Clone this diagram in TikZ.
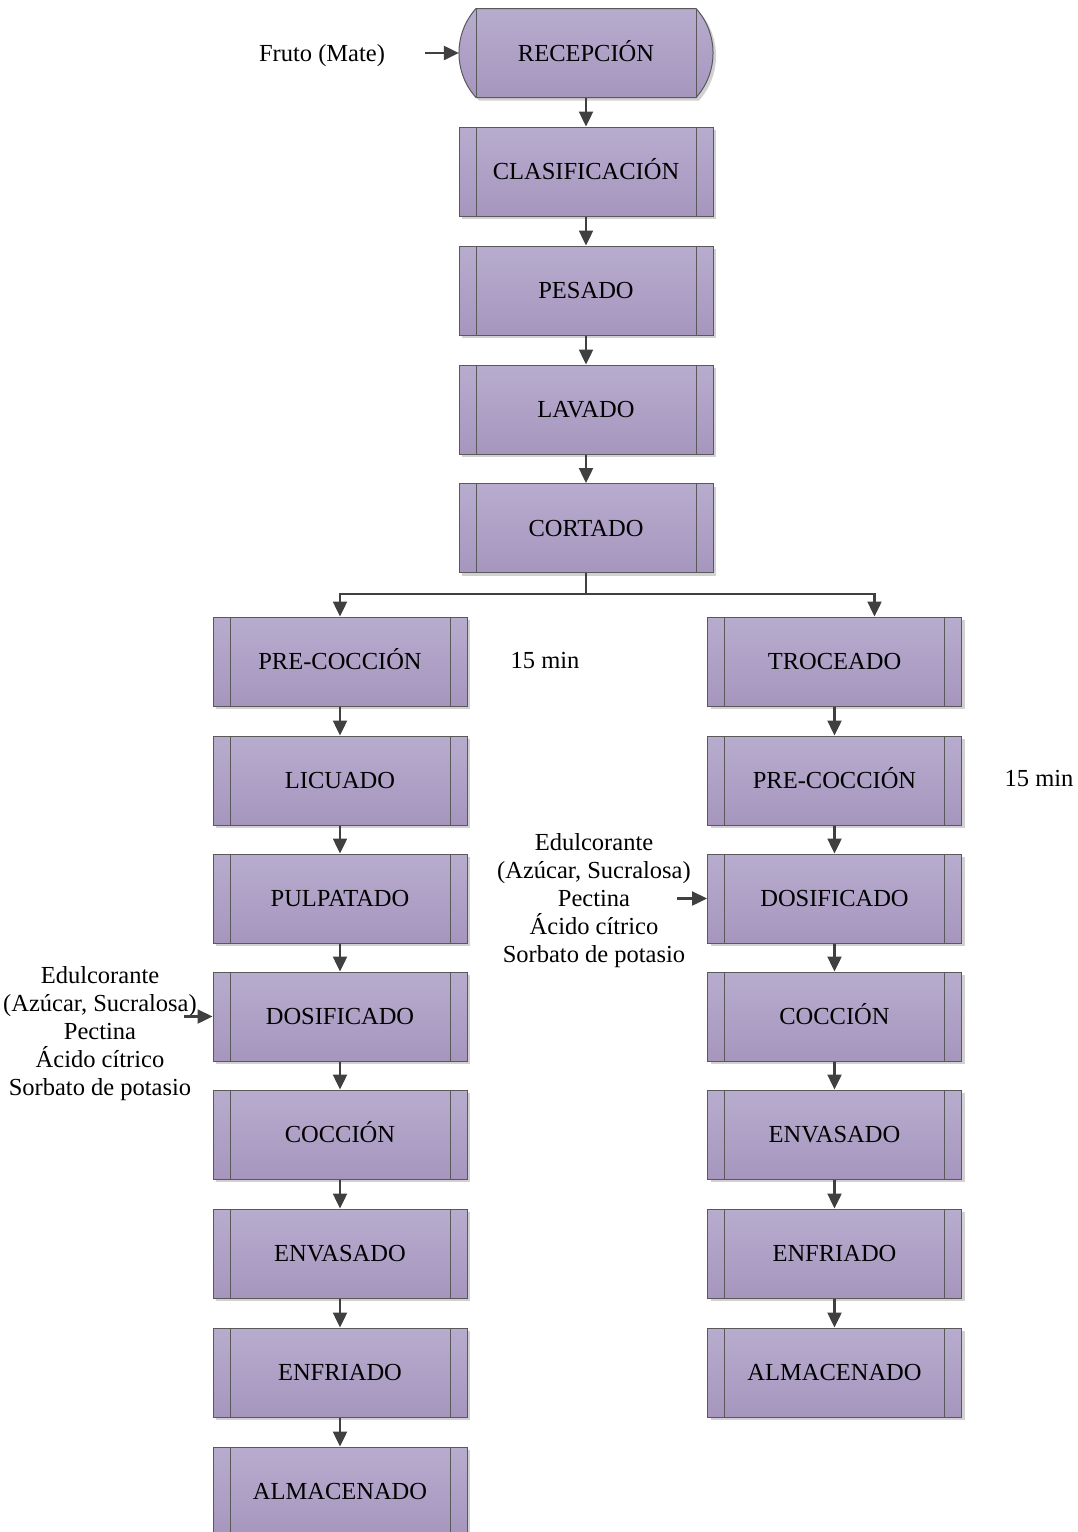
\documentclass[tikz,border=0pt]{standalone}
\usepackage{fontspec}
\setmainfont{Liberation Serif}
\usetikzlibrary{arrows.meta,shadows}
\definecolor{boxtop}{HTML}{B7ACCE}
\definecolor{boxbot}{HTML}{A696BE}
\definecolor{edge}{HTML}{595959}
\definecolor{arrc}{HTML}{404040}
\tikzset{
  txt/.style={font=\fontsize{24.5}{28}\selectfont, text=black, inner sep=0pt, text height=16.2pt, text depth=0pt},
  proc/.style={txt, draw=edge, line width=1pt, top color=boxtop, bottom color=boxbot,
    minimum width=254pt, minimum height=89pt,
    drop shadow={shadow xshift=3pt, shadow yshift=-3pt, fill=black!18, opacity=1}},
  side/.style={font=\fontsize{24.5}{28}\selectfont, text=black, inner sep=0pt, align=center},
  arr/.style={draw=arrc, line width=2.4pt, -{Triangle[length=15pt,width=14pt]}},
  ln/.style={draw=arrc, line width=2.4pt},
  inner/.style={draw=edge, line width=1pt}
}
\newcommand{\procbox}[4]{%
  \node[proc] (#1) at (#2,#3) {#4};
  \draw[inner] ([xshift=17.5pt]#1.north west) -- ([xshift=17.5pt]#1.south west);
  \draw[inner] ([xshift=-17.5pt]#1.north east) -- ([xshift=-17.5pt]#1.south east);
}
\begin{document}
\begin{tikzpicture}[x=1pt,y=-1pt]
\useasboundingbox (0,0) rectangle (1078,1532);
% RECEPCION terminal shape
\fill[black!18] (479,11.5) -- (699,11.5) .. controls (721.7,36.5) and (721.7,75.5) .. (699,100.5)
  -- (479,100.5) .. controls (456.3,75.5) and (456.3,36.5) .. (479,11.5) -- cycle;
\shade[top color=boxtop, bottom color=boxbot] (476,8.5) -- (696,8.5) .. controls (718.7,33.5) and (718.7,72.5) .. (696,97.5)
  -- (476,97.5) .. controls (453.3,72.5) and (453.3,33.5) .. (476,8.5) -- cycle;
\draw[inner] (476,8.5) -- (696,8.5) .. controls (718.7,33.5) and (718.7,72.5) .. (696,97.5)
  -- (476,97.5) .. controls (453.3,72.5) and (453.3,33.5) .. (476,8.5) -- cycle;
\draw[inner] (696,8.5) -- (696,97.5);
\draw[inner] (476,8.5) -- (476,97.5);
\node[txt, minimum width=254pt, minimum height=89pt] (rec) at (586,53) {RECEPCIÓN};
% main column
\procbox{clas}{586}{171.5}{CLASIFICACIÓN}
\procbox{pes}{586}{290.5}{PESADO}
\procbox{lav}{586}{409.5}{LAVADO}
\procbox{cort}{586}{528}{CORTADO}
% left column
\procbox{lpre}{340}{661.5}{PRE-COCCIÓN}
\procbox{llic}{340}{780.5}{LICUADO}
\procbox{lpul}{340}{898.5}{PULPATADO}
\procbox{ldos}{340}{1016.5}{DOSIFICADO}
\procbox{lcoc}{340}{1134.5}{COCCIÓN}
\procbox{lenv}{340}{1253.5}{ENVASADO}
\procbox{lenf}{340}{1372.5}{ENFRIADO}
\procbox{lalm}{340}{1491.5}{ALMACENADO}
% right column
\procbox{rtro}{834.5}{661.5}{TROCEADO}
\procbox{rpre}{834.5}{780.5}{PRE-COCCIÓN}
\procbox{rdos}{834.5}{898.5}{DOSIFICADO}
\procbox{rcoc}{834.5}{1016.5}{COCCIÓN}
\procbox{renv}{834.5}{1134.5}{ENVASADO}
\procbox{renf}{834.5}{1253.5}{ENFRIADO}
\procbox{ralm}{834.5}{1372.5}{ALMACENADO}
% side texts
\node[txt] (fruto) at (322,53) {Fruto (Mate)};
\node[txt] (t15a) at (545,660) {15 min};
\node[txt] (t15b) at (1039,778) {15 min};
\node[side] (addl) at (100,1033.5) {Edulcorante\\(Azúcar, Sucralosa)\\Pectina\\Ácido cítrico\\Sorbato de potasio};
\node[side] (addr) at (594,900.5) {Edulcorante\\(Azúcar, Sucralosa)\\Pectina\\Ácido cítrico\\Sorbato de potasio};
\coordinate (fa) at (425,53);
\coordinate (al) at (184,1016.5);
\coordinate (ar) at (677,898.5);
% connectors
\draw[arr] (fa) -- (rec.west);
\draw[arr] (rec.south) -- (clas.north);
\draw[arr] (clas) -- (pes);
\draw[arr] (pes) -- (lav);
\draw[arr] (lav) -- (cort);
\coordinate (br) at (586,594);
\draw[ln] (cort.south) -- (br);
\draw[arr] (br) -| (lpre.north);
\draw[arr] (br) -| ([xshift=40pt]rtro.north);
\draw[arr] (lpre) -- (llic);
\draw[arr] (llic) -- (lpul);
\draw[arr] (lpul) -- (ldos);
\draw[arr] (ldos) -- (lcoc);
\draw[arr] (lcoc) -- (lenv);
\draw[arr] (lenv) -- (lenf);
\draw[arr] (lenf) -- (lalm);
\draw[arr] (rtro) -- (rpre);
\draw[arr] (rpre) -- (rdos);
\draw[arr] (rdos) -- (rcoc);
\draw[arr] (rcoc) -- (renv);
\draw[arr] (renv) -- (renf);
\draw[arr] (renf) -- (ralm);
\draw[arr] (al) -- (ldos.west);
\draw[arr] (ar) -- (rdos.west);
\end{tikzpicture}
\end{document}
